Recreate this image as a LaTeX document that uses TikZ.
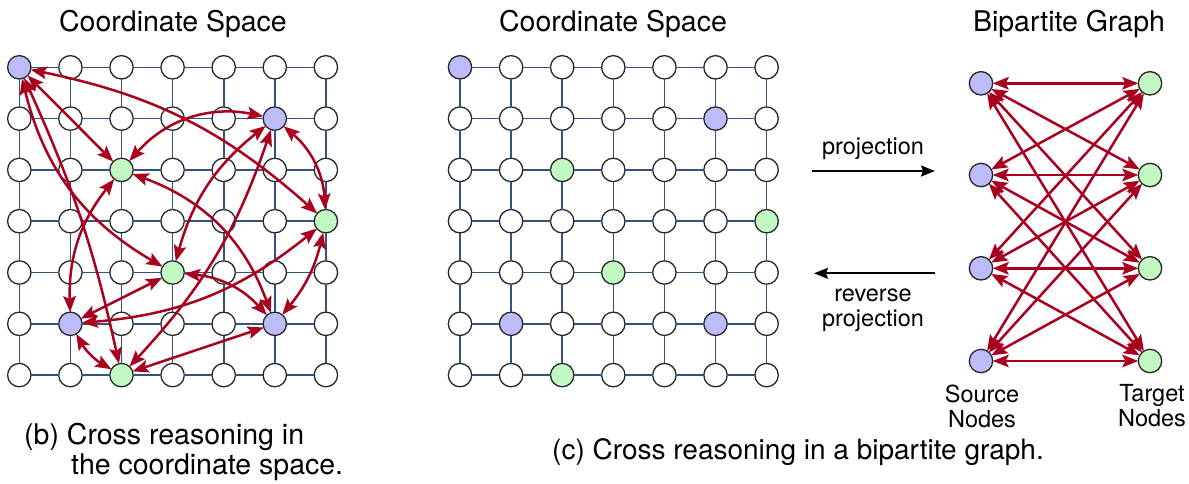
\documentclass[tikz,border=0pt]{standalone}
\usepackage{fontspec}
\setmainfont{TeX Gyre Heros}
\usetikzlibrary{arrows.meta,backgrounds}
\definecolor{pur}{HTML}{BCBCFA}
\definecolor{grn}{HTML}{C2F9C2}
\definecolor{edg}{HTML}{A8001E}
\definecolor{gridc}{HTML}{34527E}
\tikzset{
  cell/.style={circle,draw=black!85,line width=1.3pt,fill=white,minimum size=23.4pt,inner sep=0pt,outer sep=0pt},
  p/.style={fill=pur}, g/.style={fill=grn},
  c00/.style={p}, c51/.style={p}, c15/.style={p}, c55/.style={p},
  c22/.style={g}, c63/.style={g}, c34/.style={g}, c26/.style={g},
  gl/.style={draw=gridc,line width=1.6pt},
  rel/.style={draw=edg,line width=2.5pt,{Stealth[length=16pt,width=12.5pt,inset=3pt]}-{Stealth[length=16pt,width=12.5pt,inset=3pt]}},
  proj/.style={draw=black,line width=2pt,-{Stealth[length=14pt,width=11pt,inset=2pt]}},
  big/.style={font=\fontsize{28.5}{32}\selectfont,inner sep=0pt},
  captxt/.style={font=\fontsize{28}{32}\selectfont,inner sep=0pt},
  small/.style={font=\fontsize{23.5}{26}\selectfont,inner sep=0pt,align=center}
}
\begin{document}
\begin{tikzpicture}[x=1pt,y=1pt]
\path[use as bounding box] (0,0) rectangle (1189,-483);
% grids
\foreach \c in {0,...,6} \foreach \r in {0,...,6} {
  \node[cell,c\c\r/.try] (L\c\r) at ({19.3+51.1*\c},{-67.3-51.3*\r}) {};
  \node[cell,c\c\r/.try] (M\c\r) at ({460+51.1*\c},{-67.3-51.3*\r}) {};
}
\foreach \c [evaluate=\c as \n using int(\c+1)] in {0,...,5} \foreach \r in {0,...,6} {
  \draw[gl] (L\c\r) -- (L\n\r);
  \draw[gl] (L\r\c) -- (L\r\n);
  \draw[gl] (M\c\r) -- (M\n\r);
  \draw[gl] (M\r\c) -- (M\r\n);
}
% cross reasoning arrows
\draw[rel] (L00) -- (L22);
\draw[rel] (L00) to[bend left=15] (L63);
\draw[rel] (L00) to[bend right=23] (L34);
\draw[rel] (L00) to[bend left=6] (L26);
\draw[rel] (L22) to[bend left=30] (L51);
\draw[rel] (L51) to[bend left=23] (L63);
\draw[rel] (L51) to[bend right=18] (L34);
\draw[rel] (L51) to[bend left=12] (L26);
\draw[rel] (L15) to[bend left=20] (L22);
\draw[rel] (L15) to[bend right=17] (L63);
\draw[rel] (L15) -- (L34);
\draw[rel] (L15) to[bend right=15] (L26);
\draw[rel] (L22) to[bend left=25] (L55);
\draw[rel] (L55) to[bend right=13] (L63);
\draw[rel] (L34) to[bend left=21] (L55);
\draw[rel] (L55) -- (L26);
% bipartite
\foreach \i/\y in {0/83.3,1/175,2/268.3,3/361} {
  \node[cell,p] (S\i) at (981,-\y) {};
  \node[cell,g] (T\i) at (1150,-\y) {};
}
\foreach \i in {0,...,3} \foreach \j in {0,...,3} {
  \draw[rel] (S\i) -- (T\j);
}
% projection arrows
\coordinate (pa1) at (812,-171);
\coordinate (pa2) at (935,-171);
\coordinate (pb1) at (935,-273.3);
\coordinate (pb2) at (814,-273.3);
\draw[proj] (pa1) -- (pa2);
\draw[proj] (pb1) -- (pb2);
\node[small] (lp) at (873,-149) {projection};
\node[small] (lr) at (873,-310) {reverse\\[-1pt]projection};
% titles
\node[big] (t1) at (173,-24) {Coordinate Space};
\node[big] (t2) at (613,-24) {Coordinate Space};
\node[big] (t3) at (1069,-24) {Bipartite Graph};
\node[small] (sl) at (982,-406) {Source\\[-1pt]Nodes};
\node[small] (tl) at (1152,-406) {Target\\[-1pt]Nodes};
% captions
\node[big,anchor=west] (cb1) at (24,-437) {(b) Cross reasoning in};
\node[big,anchor=west] (cb2) at (71,-467) {the coordinate space.};
\node[captxt] (cc) at (798,-452) {(c) Cross reasoning in a bipartite graph.};
\end{tikzpicture}
\end{document}
